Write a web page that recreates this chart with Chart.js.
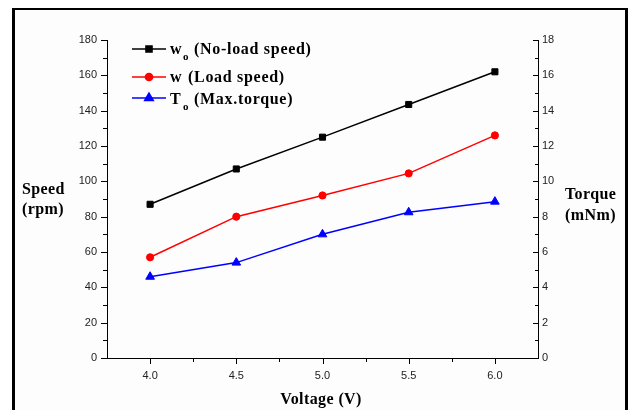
<!DOCTYPE html>
<html>
<head>
<meta charset="utf-8">
<script src="https://cdn.jsdelivr.net/npm/chart.js@4"></script>
<style>
  html, body { margin: 0; padding: 0; background: #fff; }
  #wrap { position: relative; width: 630px; height: 410px; }
  #frame {
    position: absolute; left: 12px; top: 8px; width: 616px; height: 430px;
    box-sizing: border-box; background: #fdfdfd;
    border-left: 3px solid #000; border-top: 2px solid #000; border-right: 3px solid #000;
  }
  canvas { position: absolute; left: 0; top: 0; }
</style>
</head>
<body>
<div id="wrap">
  <div id="frame"></div>
  <canvas id="chart" width="630" height="410"></canvas>
</div>
<script>
const voltage = [4.0, 4.5, 5.0, 5.5, 6.0];
const noLoadSpeed = [87, 107, 125, 143.5, 162];
const loadSpeed = [57, 80, 92, 104.5, 126];
const maxTorque = [4.6, 5.4, 7.0, 8.25, 8.85];
const voltageTicks = [4.0, 4.5, 5.0, 5.5, 6.0];

function toPoints(xs, ys) {
  return xs.map((x, i) => ({ x: x, y: ys[i] }));
}

const serif = '"Liberation Serif", "Times New Roman", serif';

// minor / major tick marks (left and bottom outward, right inward)
const tickMarks = {
  id: 'tickMarks',
  afterDraw(chart) {
    const ctx = chart.ctx;
    const { x, y, y1 } = chart.scales;
    ctx.save();
    ctx.strokeStyle = '#000';
    ctx.lineWidth = 1;
    ctx.beginPath();
    for (let v = 0; v <= 180; v += 10) {
      const py = Math.round(y.getPixelForValue(v)) + 0.5;
      const len = v % 20 === 0 ? 6 : 4;
      ctx.moveTo(y.right - len, py);
      ctx.lineTo(y.right, py);
    }
    for (let v = 0; v <= 18; v += 1) {
      const py = Math.round(y1.getPixelForValue(v)) + 0.5;
      const len = v % 2 === 0 ? 5 : 3;
      ctx.moveTo(y1.left - len, py);
      ctx.lineTo(y1.left, py);
    }
    for (let v = 4.0; v <= 6.01; v += 0.25) {
      const px = Math.round(x.getPixelForValue(v)) + 0.5;
      const len = Math.abs(v * 2 - Math.round(v * 2)) < 0.01 ? 6 : 4;
      ctx.moveTo(px, x.top);
      ctx.lineTo(px, x.top + len);
    }
    ctx.stroke();
    ctx.restore();
  }
};

// legend with subscripts and the horizontal axis titles
const labels = {
  id: 'labels',
  afterDraw(chart) {
    const ctx = chart.ctx;
    const sets = chart.data.datasets;
    const rows = [
      { y: 49, base: 54, main: 'w', sub: 'o', rest: '(No-load speed)', restX: 194 },
      { y: 77, base: 82, main: 'w', sub: '', rest: '(Load speed)', restX: 188 },
      { y: 98, base: 104, main: 'T', sub: 'o', rest: '(Max.torque)', restX: 194 }
    ];
    ctx.save();
    rows.forEach((r, i) => {
      const ds = sets[i];
      ctx.strokeStyle = ds.borderColor;
      ctx.lineWidth = 1.5;
      ctx.beginPath();
      ctx.moveTo(132, r.y);
      ctx.lineTo(166, r.y);
      ctx.stroke();
      ctx.fillStyle = ds.backgroundColor;
      Chart.helpers.drawPoint(ctx, {
        pointStyle: ds.pointStyle, radius: ds.pointRadius, rotation: 0, borderWidth: 1
      }, 149, r.y);

      ctx.fillStyle = '#000';
      ctx.textBaseline = 'alphabetic';
      ctx.textAlign = 'left';
      ctx.letterSpacing = '0.7px';
      ctx.font = 'bold 16px ' + serif;
      ctx.fillText(r.main, 170, r.base);
      ctx.fillText(r.rest, r.restX, r.base);
      if (r.sub) {
        ctx.font = 'bold 11px ' + serif;
        ctx.fillText(r.sub, 183, r.base + 6);
      }
    });

    ctx.font = 'bold 16px ' + serif;
    ctx.letterSpacing = '0.4px';
    ctx.fillText('Speed', 22, 194);
    ctx.fillText('(rpm)', 22, 214);
    ctx.fillText('Torque', 565, 199);
    ctx.fillText('(mNm)', 565, 220);
    ctx.textAlign = 'center';
    ctx.fillText('Voltage (V)', 321, 404);
    ctx.restore();
  }
};

const tickFont = { family: '"Liberation Sans", Arial, sans-serif', size: 11 };

new Chart(document.getElementById('chart'), {
  type: 'line',
  data: {
    datasets: [
      {
        label: 'wo (No-load speed)',
        data: toPoints(voltage, noLoadSpeed),
        yAxisID: 'y',
        borderColor: '#000000',
        backgroundColor: '#000000',
        pointStyle: 'rect',
        pointRadius: 4.3
      },
      {
        label: 'w (Load speed)',
        data: toPoints(voltage, loadSpeed),
        yAxisID: 'y',
        borderColor: '#ff0000',
        backgroundColor: '#ff0000',
        pointStyle: 'circle',
        pointRadius: 3.6
      },
      {
        label: 'To (Max.torque)',
        data: toPoints(voltage, maxTorque),
        yAxisID: 'y1',
        borderColor: '#0000ff',
        backgroundColor: '#0000ff',
        pointStyle: 'triangle',
        pointRadius: 5
      }
    ]
  },
  options: {
    responsive: false,
    animation: false,
    layout: { padding: { top: 40, left: 0, right: 0, bottom: 0 } },
    elements: {
      line: { borderWidth: 1.5, tension: 0 },
      point: { borderWidth: 1, hoverRadius: 4 }
    },
    plugins: {
      legend: { display: false },
      tooltip: { enabled: false }
    },
    scales: {
      x: {
        type: 'linear',
        min: 3.75,
        max: 6.25,
        afterBuildTicks: (s) => { s.ticks = voltageTicks.map((v) => ({ value: v })); },
        afterFit: (s) => { s.height = 52; },
        grid: { drawOnChartArea: false, drawTicks: false },
        border: { display: true, color: '#000', width: 1 },
        ticks: {
          padding: 11,
          color: '#222',
          font: tickFont,
          callback: (v) => Number(v).toFixed(1)
        }
      },
      y: {
        position: 'left',
        min: 0,
        max: 180,
        afterFit: (s) => { s.width = 107; },
        grid: { drawOnChartArea: false, drawTicks: false },
        border: { display: true, color: '#000', width: 1 },
        ticks: { stepSize: 20, padding: 10, color: '#222', font: tickFont }
      },
      y1: {
        position: 'right',
        min: 0,
        max: 18,
        afterFit: (s) => { s.width = 92; },
        grid: { drawOnChartArea: false, drawTicks: false },
        border: { display: true, color: '#000', width: 1 },
        ticks: { stepSize: 2, padding: 4, color: '#222', font: tickFont }
      }
    }
  },
  plugins: [tickMarks, labels]
});
</script>
</body>
</html>
